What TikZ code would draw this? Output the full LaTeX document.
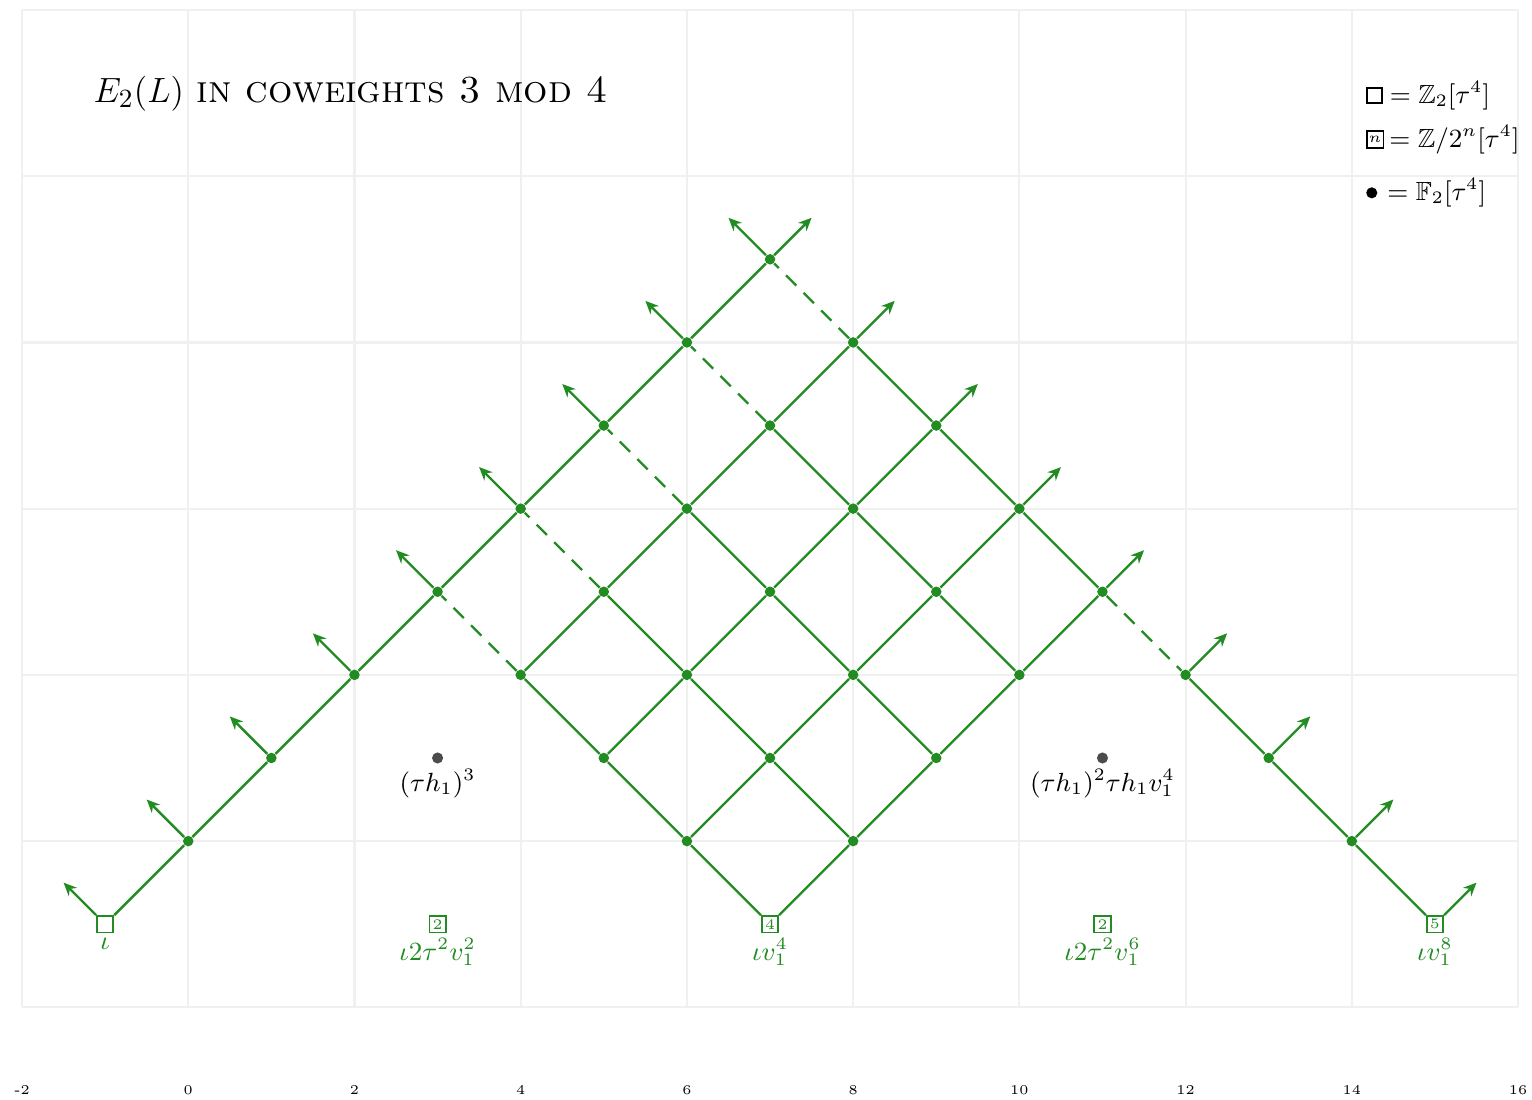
\documentclass[tikz,border=0pt]{standalone}
\usepackage{amsfonts}
\usepackage{amsmath}
\usepackage{xcolor}
\usepackage{tikz}
\usetikzlibrary{arrows.meta,positioning}
\definecolor{sseqgreen}{RGB}{34,139,34}

\begin{document}
\begin{tikzpicture}[
      font=\small,
      gridline/.style={draw=black!6, line width=0.75pt},
      gen/.style={rectangle, draw=sseqgreen, semithick, inner sep=0.5pt,
                  minimum size=5.6pt, font=\tiny, text=sseqgreen},
      dot/.style={circle, fill=sseqgreen, inner sep=0pt, minimum size=3.6pt},
      hdot/.style={circle, fill=black!70, inner sep=0pt, minimum size=3.8pt},
      gtag/.style={text=sseqgreen, inner sep=1.6pt},
      htag/.style={inner sep=1.5pt},
      key/.style={rectangle, draw=black, semithick, inner sep=0.5pt,
                  minimum size=5.2pt, font=\tiny},
      ln/.style={draw=sseqgreen, thick},
      dln/.style={draw=sseqgreen, thick, dash pattern=on 5pt off 3.5pt},
      arr/.style={-{Stealth[length=4.5pt, width=4pt]}, draw=sseqgreen, thick}
    ]
    \useasboundingbox (-2.265,-1.115) rectangle (16.168,12.12);
    \foreach \x in {-2,0,...,16} {
      \draw[gridline] (\x,0) -- (\x,12);
      \node[font=\fontsize{4.6}{5}\selectfont] (ax\x) at (\x,-1) {\x};
    }
    \foreach \y in {0,2,...,12}
      \draw[gridline] (-2,\y) -- (16,\y);

    \node[anchor=base west, inner sep=0pt, font=\fontsize{13.1}{16}\selectfont] (title)
      at (-1.146,10.89) {$E_2(L)$ \textsc{in coweights 3 mod 4}};

    \node[key] (k1) at (14.27,10.97) {};
    \node[key, minimum size=5.8pt] (k2) at (14.28,10.44) {$n$};
    \node[circle, fill=black, inner sep=0pt, minimum size=3.8pt] (k3) at (14.24,9.80) {};
    \node[right=1.2pt of k1, inner sep=1pt] (k1t) {$= \mathbb{Z}_2[\tau^4]$};
    \node[right=0.5pt of k2, inner sep=1pt] (k2t) {$= \mathbb{Z}/2^n[\tau^4]$};
    \node[right=2pt of k3, inner sep=1pt] (k3t) {$= \mathbb{F}_2[\tau^4]$};

    \node[gen, label={[gtag]below:$\iota 2\tau^2v_1^2$}] (b3) at (3,1) {2};
    \node[gen, label={[gtag]below:$\iota 2\tau^2v_1^6$}] (b11) at (11,1) {2};
    \node[hdot, label={[htag]below:$(\tau h_1)^3$}] (h3) at (3,3) {};
    \node[hdot, label={[htag]below:$(\tau h_1)^2\tau h_1v_1^4$}] (h11) at (11,3) {};

    \node[gen, label={[gtag]below:$\iota$}] (l0) at (-1,1) {};
    \foreach \k in {1,...,8}
      \node[dot] (l\k) at (\k-1,\k+1) {};
    \foreach \k [count=\m from 0] in {1,...,8}
      \draw[ln] (l\m) -- (l\k);
    \foreach \k in {0,...,8} {
      \coordinate (l\k-nw) at ([shift={(-0.5,0.5)}]l\k.center);
      \draw[arr] (l\k) -- (l\k-nw);
    }
    \coordinate (l8-ne) at ([shift={(0.5,0.5)}]l8.center);
    \draw[arr] (l8) -- (l8-ne);

    \foreach \i in {0,...,4}
      \foreach \j in {0,...,3} {
        \ifnum\i\j>0 \node[dot] (d\i\j) at (7+\i-\j,1+\i+\j) {}; \fi
      }
    \node[gen, label={[gtag]below:$\iota v_1^4$}] (d00) at (7,1) {4};
    \foreach \i [count=\n from 1] in {0,...,3}
      \foreach \j in {0,...,3}
        \draw[ln] (d\i\j) -- (d\n\j);
    \foreach \i in {0,...,4}
      \foreach \j [count=\n from 1] in {0,...,2}
        \draw[ln] (d\i\j) -- (d\i\n);
    \foreach \i [count=\k from 4] in {0,...,4}
      \draw[dln] (d\i3) -- (l\k);
    \foreach \j in {0,...,3} {
      \coordinate (d4\j-ne) at ([shift={(0.5,0.5)}]d4\j.center);
      \draw[arr] (d4\j) -- (d4\j-ne);
    }

    \node[gen, label={[gtag]below:$\iota v_1^8$}] (r0) at (15,1) {5};
    \node[dot] (r1) at (14,2) {};
    \node[dot] (r2) at (13,3) {};
    \node[dot] (r3) at (12,4) {};
    \draw[ln] (r0) -- (r1) -- (r2) -- (r3);
    \draw[dln] (d40) -- (r3);
    \foreach \k in {0,...,3} {
      \coordinate (r\k-ne) at ([shift={(0.5,0.5)}]r\k.center);
      \draw[arr] (r\k) -- (r\k-ne);
    }
\end{tikzpicture}
\end{document}
